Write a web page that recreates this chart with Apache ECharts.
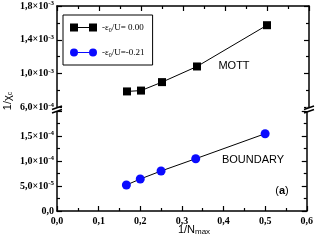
<!DOCTYPE html>
<html><head><meta charset="utf-8">
<script src="https://cdn.jsdelivr.net/npm/echarts@6/dist/echarts.min.js"></script>
<style>html,body{margin:0;padding:0;background:#fff}#c{width:316px;height:242px}</style>
</head><body><div id="c"></div>
<script>
// ---- data ----
const xMott = [0.1667, 0.2, 0.25, 0.3333, 0.5];
const yMott = [7.9e-4, 8.0e-4, 9.0e-4, 1.085e-3, 1.573e-3];
const xBoundary = [0.1667, 0.2, 0.25, 0.3333, 0.5];
const yBoundary = [5.2e-5, 6.4e-5, 8.0e-5, 1.046e-4, 1.546e-4];
const seriesNames = ['-ε0/U= 0.00', '-ε0/U=-0.21'];
const xTickLabels = ['0,0', '0,1', '0,2', '0,3', '0,4', '0,5', '0,6'];
const yTopTicks = [6e-4, 1.0e-3, 1.4e-3, 1.8e-3];
const yTopMant = ['6,0', '1,0', '1,4', '1,8'];
const yTopExp = ['-4', '-3', '-3', '-3'];
const yBotTicks = [0, 5e-5, 1e-4, 1.5e-4];
const yBotMant = ['0,0', '5,0', '1,0', '1,5'];
const yBotExp = ['', '-5', '-4', '-4'];

const SERIF = 'Liberation Serif';
const SANS = 'Liberation Sans';
const BLUE = '#0a0aff';

function yFmt(ticks, mant, exp) {
  return function (v) {
    const i = ticks.findIndex(t => Math.abs(t - v) < 1e-9);
    if (i < 0) return '';
    return exp[i] ? '{m|' + mant[i] + '×10}{e|' + exp[i] + '}' : '{m|' + mant[i] + '}';
  };
}
const labelRich = {
  m: { fontFamily: SERIF, fontWeight: 'bold', fontSize: 10, color: '#000', lineHeight: 12 },
  e: { fontFamily: SERIF, fontWeight: 'bold', fontSize: 7, color: '#000', lineHeight: 7, verticalAlign: 'top' }
};
const axLine = { show: true, onZero: false, lineStyle: { color: '#000', width: 1.5 } };
const axTick = { show: true, inside: true, length: 5, lineStyle: { color: '#000', width: 1.2 } };
const minor = { show: true, splitNumber: 2, length: 3, lineStyle: { color: '#000', width: 1.2 } };

function xAxis(grid, pos, labels) {
  return {
    type: 'value', gridIndex: grid, position: pos, min: 0, max: 0.6, interval: 0.1,
    axisLine: axLine, axisTick: axTick, minorTick: minor, splitLine: { show: false },
    axisLabel: labels ? {
      show: true, margin: 5, fontFamily: SERIF, fontWeight: 'bold', fontSize: 10, color: '#000',
      formatter: v => xTickLabels[Math.round(v * 10)] || ''
    } : { show: false }
  };
}
function yAxis(grid, pos, min, max, interval, fmt) {
  return {
    type: 'value', gridIndex: grid, position: pos, min: min, max: max, interval: interval,
    axisLine: axLine, axisTick: axTick, minorTick: minor, splitLine: { show: false },
    axisLabel: fmt ? { show: true, margin: 3, formatter: fmt, rich: labelRich } : { show: false }
  };
}

const legendIcons = [
  'path://M0,0H8V8H0Z M8,3.5H19V4.5H8Z M19,0H27V8H19Z',
  'path://M4,0A4,4,0,1,1,4,8A4,4,0,1,1,4,0Z M8,3.5H19V4.5H8Z M23,0A4,4,0,1,1,23,8A4,4,0,1,1,23,0Z'
];

function breakMark(x) {
  return [
    { type: 'rect', shape: { x: x - 3, y: 107.5, width: 6, height: 3.5 }, style: { fill: '#fff' }, z: 100 },
    { type: 'line', shape: { x1: x - 5, y1: 109.5, x2: x + 5, y2: 106 }, style: { stroke: '#000', lineWidth: 1.5 }, z: 101 },
    { type: 'line', shape: { x1: x - 5, y1: 113, x2: x + 5, y2: 109.5 }, style: { stroke: '#000', lineWidth: 1.5 }, z: 101 }
  ];
}

const chart = echarts.init(document.getElementById('c'), null, { renderer: 'canvas' });
chart.setOption({
  animation: false,
  backgroundColor: '#fff',
  grid: [
    { left: 57, right: 7, top: 6, height: 101.5 },
    { left: 57, right: 7, top: 111, height: 100 }
  ],
  xAxis: [xAxis(0, 'top', false), xAxis(1, 'bottom', true)],
  yAxis: [
    yAxis(0, 'left', 6e-4, 1.8e-3, 4e-4, yFmt(yTopTicks, yTopMant, yTopExp)),
    yAxis(0, 'right', 6e-4, 1.8e-3, 4e-4, null),
    yAxis(1, 'left', 0, 2e-4, 5e-5, yFmt(yBotTicks, yBotMant, yBotExp)),
    yAxis(1, 'right', 0, 2e-4, 5e-5, null)
  ],
  legend: {
    orient: 'vertical', left: 63, top: 15,
    borderColor: '#000', borderWidth: 1, padding: [7, 8, 7, 7],
    itemWidth: 27, itemHeight: 8, itemGap: 14,
    data: [
      { name: seriesNames[0], icon: legendIcons[0], itemStyle: { color: '#000' } },
      { name: seriesNames[1], icon: legendIcons[1], itemStyle: { color: BLUE } }
    ],
    formatter: n => n.replace('ε0', 'ε{s|0}'),
    textStyle: {
      fontFamily: SERIF, fontSize: 9, color: '#000', lineHeight: 11,
      rich: { s: { fontFamily: SERIF, fontSize: 6, color: '#000', lineHeight: 6, verticalAlign: 'bottom' } }
    }
  },
  series: [
    {
      name: seriesNames[0], type: 'line', xAxisIndex: 0, yAxisIndex: 0,
      data: xMott.map((x, i) => [x, yMott[i]]),
      symbol: 'rect', symbolSize: 8,
      itemStyle: { color: '#000' }, lineStyle: { color: '#000', width: 1 }
    },
    {
      name: seriesNames[1], type: 'line', xAxisIndex: 1, yAxisIndex: 2,
      data: xBoundary.map((x, i) => [x, yBoundary[i]]),
      symbol: 'circle', symbolSize: 9,
      itemStyle: { color: BLUE }, lineStyle: { color: '#000', width: 1 }
    }
  ],
  graphic: [
    ...breakMark(57), ...breakMark(309),
    { type: 'text', x: 8, y: 101, rotation: Math.PI / 2,
      style: { text: '1/χ{s|c}', fontFamily: SANS, fontSize: 11, fill: '#000', align: 'center', verticalAlign: 'middle',
        rich: { s: { fontFamily: SANS, fontSize: 7, fill: '#000', verticalAlign: 'bottom', lineHeight: 7 } } } },
    { type: 'text', x: 194, y: 230,
      style: { text: '1/N{s|max}', fontFamily: SANS, fontSize: 11, fill: '#000', align: 'center', verticalAlign: 'middle',
        rich: { s: { fontFamily: SANS, fontSize: 8, fill: '#000', verticalAlign: 'bottom', lineHeight: 8 } } } },
    { type: 'text', x: 234, y: 66,
      style: { text: 'MOTT', fontFamily: SANS, fontSize: 11, fill: '#000', align: 'center', verticalAlign: 'middle' } },
    { type: 'text', x: 253, y: 160,
      style: { text: 'BOUNDARY', fontFamily: SANS, fontSize: 11, fill: '#000', align: 'center', verticalAlign: 'middle' } },
    { type: 'text', x: 282, y: 191,
      style: { text: '({b|a})', fontFamily: SANS, fontSize: 11, fill: '#000', align: 'center', verticalAlign: 'middle',
        rich: { b: { fontFamily: SANS, fontSize: 11, fontWeight: 'bold', fill: '#000' } } } }
  ]
});
</script>
</body></html>
